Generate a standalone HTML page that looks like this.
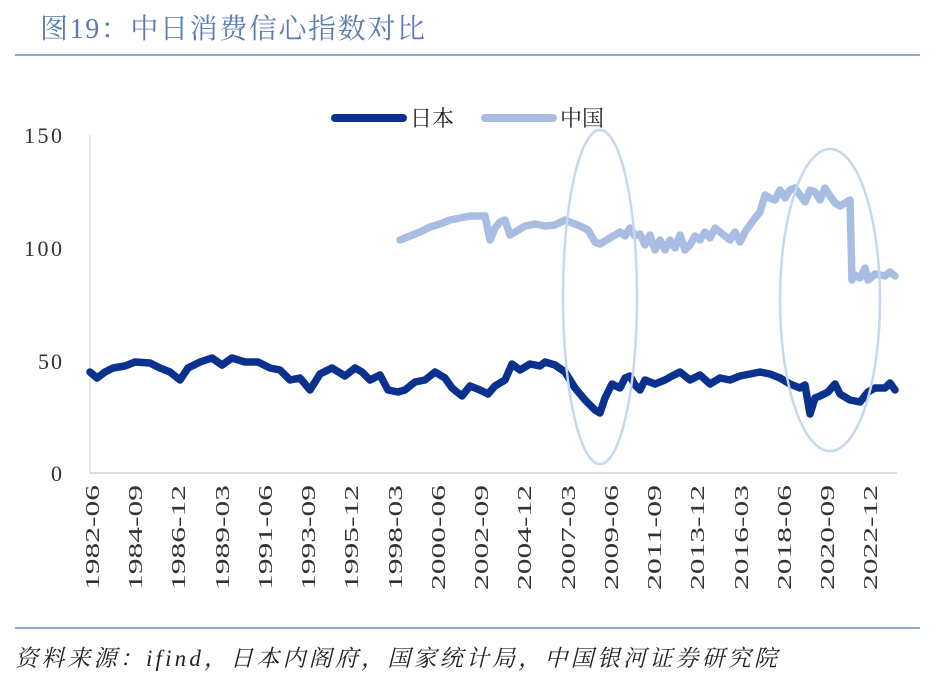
<!DOCTYPE html>
<html><head><meta charset="utf-8"><style>
body{margin:0;background:#fff;width:935px;height:681px;overflow:hidden}
</style></head><body>
<svg width="935" height="681" xmlns="http://www.w3.org/2000/svg" font-family="Liberation Serif, Noto Serif CJK SC, serif">
<text x="40" y="38" font-size="28" fill="#5b7bb5" textLength="385">图19：中日消费信心指数对比</text>
<line x1="15" y1="55" x2="920" y2="55" stroke="#6f8cc0" stroke-width="1.5"/>
<line x1="15" y1="628" x2="920" y2="628" stroke="#6f8cc0" stroke-width="1.5"/>
<text x="15" y="666" font-size="23" font-style="italic" fill="#222" textLength="762">资料来源：ifind，日本内阁府，国家统计局，中国银河证券研究院</text>
<line x1="335" y1="118" x2="403" y2="118" stroke="#0b318f" stroke-width="8" stroke-linecap="round"/>
<text x="410" y="126" font-size="22" fill="#222">日本</text>
<line x1="485" y1="118" x2="553" y2="118" stroke="#a9bde3" stroke-width="8" stroke-linecap="round"/>
<text x="560" y="126" font-size="22" fill="#222">中国</text>
<g font-size="22" fill="#333" text-anchor="end">
<text x="62" y="481">0</text><text x="62" y="369" textLength="24">50</text><text x="62" y="256" textLength="38">100</text><text x="62" y="143" textLength="38">150</text>
</g>
<line x1="90" y1="135" x2="90" y2="473" stroke="#ccc"/>
<line x1="90" y1="473" x2="897" y2="473" stroke="#bbb"/>
<g font-size="20" fill="#333" text-anchor="end">
<text transform="translate(99,485) rotate(-90)" textLength="105" lengthAdjust="spacingAndGlyphs">1982-06</text>
<text transform="translate(142,485) rotate(-90)" textLength="105" lengthAdjust="spacingAndGlyphs">1984-09</text>
<text transform="translate(185,485) rotate(-90)" textLength="105" lengthAdjust="spacingAndGlyphs">1986-12</text>
<text transform="translate(229,485) rotate(-90)" textLength="105" lengthAdjust="spacingAndGlyphs">1989-03</text>
<text transform="translate(272,485) rotate(-90)" textLength="105" lengthAdjust="spacingAndGlyphs">1991-06</text>
<text transform="translate(315,485) rotate(-90)" textLength="105" lengthAdjust="spacingAndGlyphs">1993-09</text>
<text transform="translate(358,485) rotate(-90)" textLength="105" lengthAdjust="spacingAndGlyphs">1995-12</text>
<text transform="translate(402,485) rotate(-90)" textLength="105" lengthAdjust="spacingAndGlyphs">1998-03</text>
<text transform="translate(445,485) rotate(-90)" textLength="105" lengthAdjust="spacingAndGlyphs">2000-06</text>
<text transform="translate(488,485) rotate(-90)" textLength="105" lengthAdjust="spacingAndGlyphs">2002-09</text>
<text transform="translate(531,485) rotate(-90)" textLength="105" lengthAdjust="spacingAndGlyphs">2004-12</text>
<text transform="translate(575,485) rotate(-90)" textLength="105" lengthAdjust="spacingAndGlyphs">2007-03</text>
<text transform="translate(618,485) rotate(-90)" textLength="105" lengthAdjust="spacingAndGlyphs">2009-06</text>
<text transform="translate(661,485) rotate(-90)" textLength="105" lengthAdjust="spacingAndGlyphs">2011-09</text>
<text transform="translate(704,485) rotate(-90)" textLength="105" lengthAdjust="spacingAndGlyphs">2013-12</text>
<text transform="translate(748,485) rotate(-90)" textLength="105" lengthAdjust="spacingAndGlyphs">2016-03</text>
<text transform="translate(791,485) rotate(-90)" textLength="105" lengthAdjust="spacingAndGlyphs">2018-06</text>
<text transform="translate(834,485) rotate(-90)" textLength="105" lengthAdjust="spacingAndGlyphs">2020-09</text>
<text transform="translate(877,485) rotate(-90)" textLength="105" lengthAdjust="spacingAndGlyphs">2022-12</text>
</g>
<polyline fill="none" stroke="#0b318f" stroke-width="7.5" stroke-linejoin="round" stroke-linecap="round" points="90,372 97,378 105,372 113,368 125,366 135,362 150,363 160,368 170,372 180,380 188,368 200,362 212,358 222,365 232,358 245,362 258,362 270,368 280,370 290,380 300,378 310,390 320,374 332,368 345,376 355,368 362,372 370,380 380,375 388,390 398,392 405,390 415,382 425,380 435,372 445,378 452,388 462,396 470,386 480,390 488,394 495,386 505,380 512,364 520,370 530,364 540,366 545,362 555,365 565,372 575,388 585,400 595,410 600,413 605,398 612,384 620,388 625,378 630,376 635,385 640,390 645,380 655,384 665,380 672,376 680,372 690,380 700,375 710,384 720,378 730,380 740,376 750,374 760,372 770,374 780,378 790,384 800,388 805,385 810,414 815,398 820,396 828,392 835,384 840,394 850,400 860,402 868,392 875,388 885,388 890,383 895,390"/>
<polyline fill="none" stroke="#a9bde3" stroke-width="7.5" stroke-linejoin="round" stroke-linecap="round" points="400,240 410,236 420,232 430,227 440,224 450,220 460,218 470,216 480,216 485,216 490,240 495,228 500,222 505,220 510,235 515,232 525,226 535,224 545,226 555,225 565,220 570,222 580,226 588,230 595,242 600,244 610,238 620,232 625,236 630,228 635,236 640,234 645,245 650,235 655,250 660,240 665,250 670,240 675,248 680,235 685,250 690,245 695,236 700,240 705,232 710,238 715,228 720,232 725,236 730,240 735,232 740,242 745,232 750,225 755,218 760,212 765,195 770,198 775,200 780,190 785,198 790,190 795,188 800,195 805,202 810,190 815,192 820,200 825,188 830,196 835,203 840,206 845,203 850,200 852,280 855,275 860,278 865,268 868,280 875,274 885,276 890,272 895,276"/>
<ellipse cx="600" cy="297" rx="37" ry="167" fill="none" stroke="#c5d8ef" stroke-width="2.5"/>
<ellipse cx="830" cy="300" rx="50" ry="151" fill="none" stroke="#c5d8ef" stroke-width="2.5"/>
</svg>
</body></html>
